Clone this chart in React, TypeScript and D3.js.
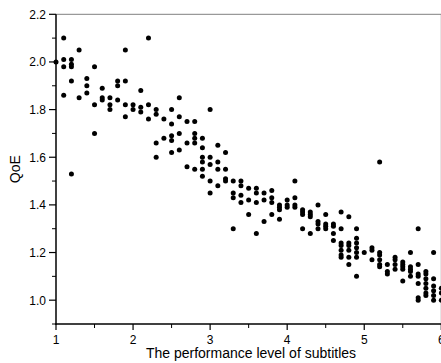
import * as d3 from 'd3';

// subtitle performance levels (x) and the QoE values measured at each level
const levels = [
    1.0, 1.1, 1.2, 1.3, 1.4, 1.5, 1.6, 1.7, 1.8, 1.9,
    2.0, 2.1, 2.2, 2.3, 2.4, 2.5, 2.6, 2.7, 2.8, 2.9,
    3.0, 3.1, 3.2, 3.3, 3.4, 3.5, 3.6, 3.7, 3.8, 3.9,
    4.0, 4.1, 4.2, 4.3, 4.4, 4.5, 4.6, 4.7, 4.8, 4.9,
    5.0, 5.1, 5.2, 5.3, 5.4, 5.5, 5.6, 5.7, 5.8, 5.9, 6.0,
];

const qoe: number[][] = [
    [2.00],
    [2.10, 2.01, 1.98, 1.86],
    [2.01, 1.99, 1.98, 1.92, 1.53],
    [2.05, 1.85],
    [1.93, 1.90, 1.87],
    [1.98, 1.82, 1.70],
    [1.89, 1.85, 1.84],
    [1.85, 1.82, 1.80],
    [1.92, 1.90, 1.84],
    [2.05, 1.92, 1.82, 1.77],
    [1.82, 1.80],
    [1.88, 1.81, 1.79],
    [2.10, 1.82, 1.76],
    [1.80, 1.78, 1.66, 1.60],
    [1.76, 1.68],
    [1.80, 1.74, 1.69, 1.67, 1.62],
    [1.85, 1.77, 1.70, 1.63],
    [1.75, 1.66, 1.56],
    [1.75, 1.70, 1.68, 1.66, 1.55],
    [1.68, 1.64, 1.60, 1.58, 1.55, 1.52],
    [1.80, 1.60, 1.57, 1.50, 1.45],
    [1.65, 1.58, 1.55, 1.48],
    [1.62, 1.55, 1.51, 1.50],
    [1.50, 1.45, 1.43, 1.30],
    [1.50, 1.48, 1.44, 1.41],
    [1.47, 1.42, 1.36],
    [1.47, 1.45, 1.41, 1.28],
    [1.45, 1.42, 1.33],
    [1.46, 1.43, 1.41, 1.36],
    [1.40, 1.39, 1.38, 1.34],
    [1.42, 1.40, 1.39],
    [1.50, 1.43, 1.40, 1.39],
    [1.38, 1.37, 1.36, 1.30],
    [1.37, 1.36, 1.35, 1.28],
    [1.40, 1.33, 1.32, 1.30],
    [1.36, 1.32, 1.31, 1.30],
    [1.32, 1.31, 1.28, 1.25],
    [1.37, 1.30, 1.24, 1.23, 1.21, 1.19, 1.18],
    [1.35, 1.24, 1.23, 1.21, 1.18, 1.15],
    [1.30, 1.26, 1.24, 1.22, 1.20, 1.18, 1.10],
    [1.20],
    [1.22, 1.21, 1.17],
    [1.58, 1.20, 1.19, 1.17, 1.15, 1.14],
    [1.15, 1.12, 1.11],
    [1.18, 1.17, 1.15, 1.13],
    [1.16, 1.15, 1.14, 1.13, 1.08],
    [1.20, 1.14, 1.13, 1.12, 1.10],
    [1.30, 1.15, 1.11, 1.10, 1.07, 1.01, 1.00],
    [1.12, 1.11, 1.09, 1.07, 1.05, 1.03, 1.02],
    [1.20, 1.09, 1.06, 1.04, 1.02, 1.00],
    [1.05, 1.03, 1.00],
];

const xTicks = [1, 2, 3, 4, 5, 6];
const xMinorTicks = [1.5, 2.5, 3.5, 4.5, 5.5];
const yTicks = [1.0, 1.2, 1.4, 1.6, 1.8, 2.0, 2.2];
const yMinorTicks = [0.9, 1.1, 1.3, 1.5, 1.7, 1.9, 2.1];

const xTitle = 'The performance level of subtitles';
const yTitle = 'QoE';

const width = 441;
const height = 363;
const marginLeft = 56;
const marginTop = 14.3;
const plotRight = 441.3;
const plotBottom = 324;

const App = () => {
    const x = d3.scaleLinear().domain([1, 6]).range([marginLeft, plotRight]);
    const y = d3.scaleLinear().domain([0.9, 2.2]).range([plotBottom, marginTop]);

    const points = levels.flatMap((lv, i) =>
        qoe[i].map((v, j) => ({ lv, v, key: `${i}-${j}` }))
    );

    const font = 'Arial, "Liberation Sans", sans-serif';

    return (
        <svg
            width={width}
            height={height}
            style={{ position: 'absolute', left: 0, top: 0, background: 'white' }}
        >
            {/* frame: grey top/right, black left/bottom */}
            <line x1={marginLeft} x2={plotRight} y1={marginTop} y2={marginTop} stroke="#808080" strokeWidth={1} />
            <line x1={plotRight} x2={plotRight} y1={marginTop} y2={plotBottom} stroke="#808080" strokeWidth={1} />

            {/* y axis */}
            <g>
                {yMinorTicks.map(t => (
                    <line key={t} x1={marginLeft - 4} x2={marginLeft} y1={y(t)} y2={y(t)} stroke="black" strokeWidth={1} />
                ))}
                {yTicks.map(t => (
                    <g key={t} transform={`translate(0, ${y(t)})`}>
                        <line x1={marginLeft - 7} x2={marginLeft} stroke="black" strokeWidth={1.2} />
                        <text x={marginLeft - 10} dy="0.36em" textAnchor="end" style={{ font: `12px ${font}`, fill: 'black' }}>
                            {d3.format('.1f')(t)}
                        </text>
                    </g>
                ))}
                <line x1={marginLeft} x2={marginLeft} y1={marginTop} y2={plotBottom + 0.75} stroke="black" strokeWidth={1.5} />
            </g>

            {/* x axis */}
            <g>
                {xMinorTicks.map(t => (
                    <line key={t} x1={x(t)} x2={x(t)} y1={plotBottom} y2={plotBottom + 4} stroke="black" strokeWidth={1} />
                ))}
                {xTicks.map(t => (
                    <g key={t} transform={`translate(${x(t)}, 0)`}>
                        <line y1={plotBottom} y2={plotBottom + 6} stroke="black" strokeWidth={1.2} />
                        <text y={343.5} textAnchor="middle" style={{ font: `12px ${font}`, fill: 'black' }}>
                            {t}
                        </text>
                    </g>
                ))}
                <line x1={marginLeft - 0.75} x2={plotRight} y1={plotBottom} y2={plotBottom} stroke="black" strokeWidth={1.5} />
            </g>

            {/* titles */}
            <text x={251} y={358} textAnchor="middle" style={{ font: `14px ${font}`, fill: 'black' }}>
                {xTitle}
            </text>
            <text
                transform={`translate(20, ${y(1.55)}) rotate(-90)`}
                textAnchor="middle"
                style={{ font: `14px ${font}`, fill: 'black' }}
            >
                {yTitle}
            </text>

            {/* scatter */}
            {points.map(p => (
                <circle key={p.key} cx={x(p.lv)} cy={y(p.v)} r={2.5} fill="black" />
            ))}
        </svg>
    );
};

export default App;
